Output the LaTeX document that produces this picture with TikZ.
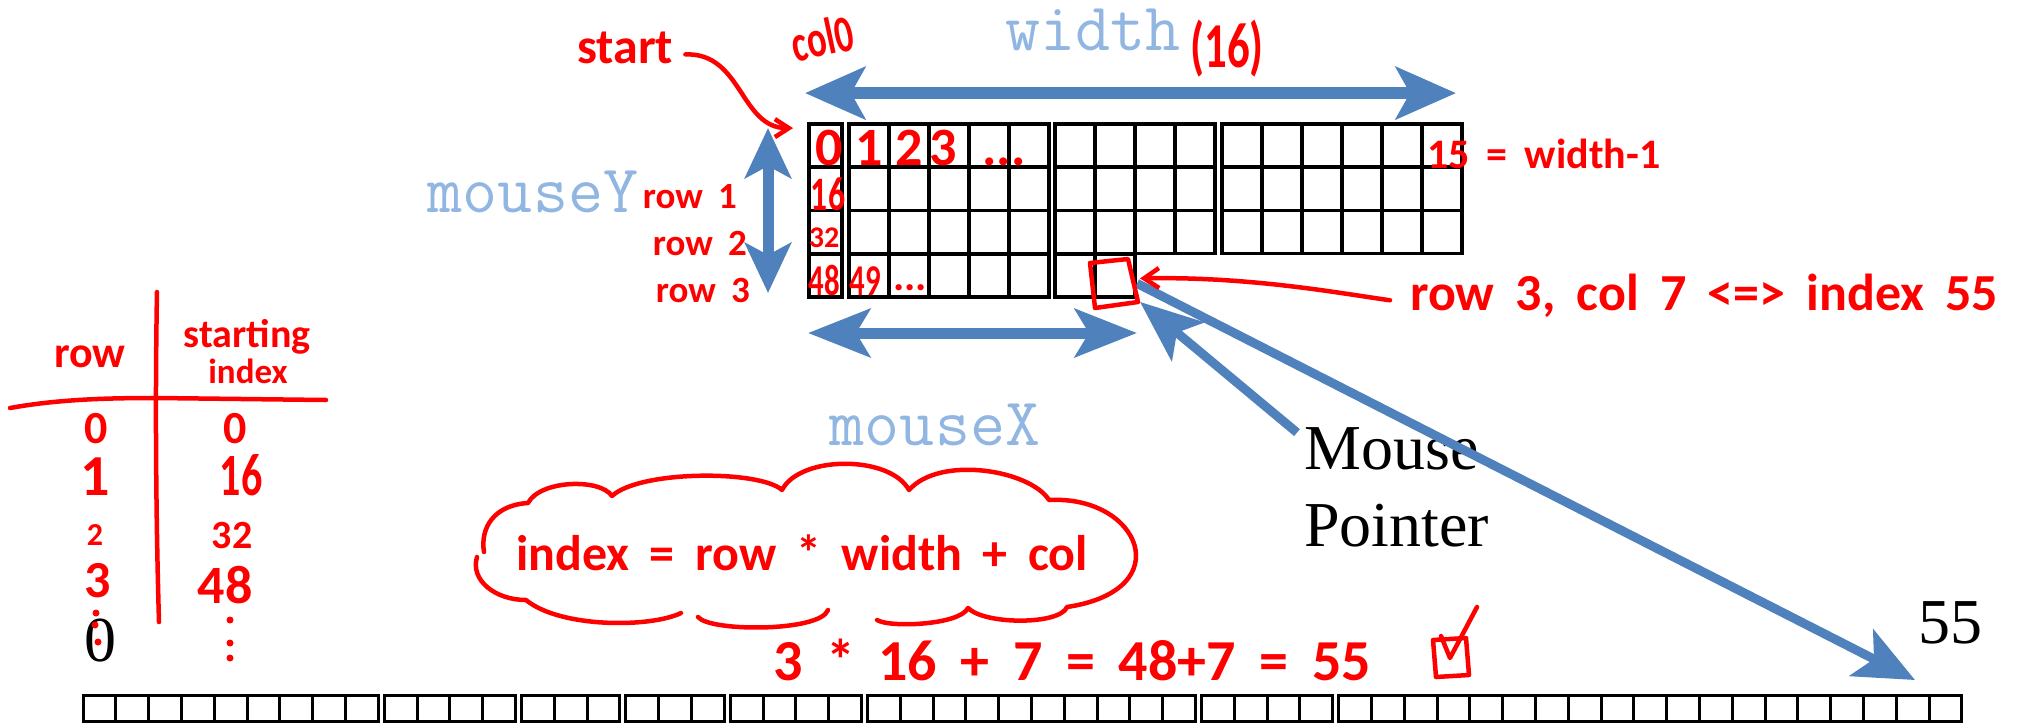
\documentclass[tikz,border=0pt]{standalone}
\usepackage{fontspec}
\setmainfont{Liberation Serif}
\newfontfamily\handfont[WordSpace=1.8]{Carlito}
\newfontfamily\handnarrow[FakeStretch=0.7]{Carlito}
\usetikzlibrary{arrows.meta}
\definecolor{arrowblue}{RGB}{79,129,189}
\definecolor{labelblue}{RGB}{145,182,226}
\newcommand{\fsz}[1]{\fontsize{#1}{#1}\selectfont}

\begin{document}
\begin{tikzpicture}[x=1pt, y=-1pt,
  cell/.style={draw, line width=3.5pt, minimum width=40pt, minimum height=43pt, inner sep=0pt, outer sep=0pt},
  slot/.style={draw, line width=3pt, minimum width=32.8pt, minimum height=26pt, inner sep=0pt, outer sep=0pt},
  hand/.style={text=red, inner sep=0pt, font=\handfont\bfseries\fsz{#1}},
  handn/.style={text=red, inner sep=0pt, font=\handnarrow\bfseries\fsz{#1}},
  ink/.style={draw=red, line width=4.5pt, line cap=round, line join=round},
  fat/.style={draw=arrowblue, line width=#1},
  bluelab/.style={text=labelblue, inner sep=0pt, font=\ttfamily\fsz{68}},
  serif/.style={inner sep=0pt, font=\fontsize{64}{77}\selectfont}]
\useasboundingbox (0,0) rectangle (2028,726);

% 2D grid, 4 rows
\foreach \rr in {0,...,3}{
  \pgfmathsetmacro{\yy}{145.6+43.25*\rr}
  \node[cell, minimum width=33pt] (g\rr-0) at (825.5,\yy) {};
  \foreach \cc in {1,...,5}
    \node[cell] (g\rr-\cc) at ({869+40*(\cc-1)},\yy) {};
}
\foreach \rr in {0,1,2}{
  \pgfmathsetmacro{\yy}{145.6+43.25*\rr}
  \foreach \cc in {6,...,9}
    \node[cell] (g\rr-\cc) at ({1075+40*(\cc-6)},\yy) {};
  \foreach \cc in {10,...,15}
    \node[cell] (g\rr-\cc) at ({1242+40*(\cc-10)},\yy) {};
}
\foreach \cc in {6,7}
  \node[cell] (g3-\cc) at ({1075+40*(\cc-6)},275.4) {};

% 1D array, 56 slots
\foreach \i in {0,...,55}{
  \pgfmathsetmacro{\xx}{99.4+32.8*\i+6*((\i>8)+(\i>12)+(\i>15)+(\i>18)+(\i>22)+(\i>32)+(\i>36))}
  \node[slot] (a\i) at (\xx,708) {};
}

% blue labels
\node[bluelab, anchor=base] (wlab) at (1093,50) {width};
\node[bluelab, anchor=base] (mylab) at (533,212) {mouseY};
\node[bluelab, anchor=base] (mxlab) at (935,445) {mouseX};

% black labels
\node[serif, anchor=north west, align=left] (mouse) at (1304,427.6) {Mouse\\Pointer};
\node[serif, anchor=base] (n55) at (1950,643) {55};
\node[serif, anchor=base] (zero) at (100,661) {0};

% blue arrows
\coordinate (wl) at ([shift={(-4pt,31pt)}]g0-0.north west);
\coordinate (wr) at ([shift={(-6pt,31pt)}]g0-15.north east);
\coordinate (myt) at (768,128);
\coordinate (myb) at (768,293);
\coordinate (mxl) at (808,333);
\coordinate (mxr) at (1137,333);
\draw[fat=12pt, {Stealth[length=60pt,width=52pt,inset=14pt]}-{Stealth[length=60pt,width=52pt,inset=14pt]}] (wl) -- (wr);
\draw[fat=11pt, {Stealth[length=50pt,width=46pt,inset=12pt]}-{Stealth[length=50pt,width=46pt,inset=12pt]}] (myt) -- (myb);
\draw[fat=11pt, {Stealth[length=62pt,width=48pt,inset=14pt]}-{Stealth[length=62pt,width=48pt,inset=14pt]}] (mxl) -- (mxr);
\draw[fat=9pt, -{Stealth[length=62pt,width=50pt,inset=14pt]}] ([shift={(-7pt,-5pt)}]mouse.north west) -- ([shift={(5pt,-5pt)}]g3-7.south east);
\draw[fat=9pt, -{Stealth[length=60pt,width=52pt,inset=14pt]}] ([shift={(2pt,-8pt)}]g3-7.east) -- ([shift={(-14pt,15pt)}]a55.north west);

% handwritten notes
\node[hand=50, anchor=base west] (start) at (577,63) {start};
\node[handn=52, rotate=12] (col0) at (822,38) {col0};
\node[handn=64, anchor=base] (w16) at (1227,67) {(16)};
\node[hand=54, anchor=base] (n0) at (829,165) {0};
\node[hand=54, anchor=base] (n1) at (869,165) {1};
\node[hand=54, anchor=base] (n2) at (909,165) {2};
\node[hand=54, anchor=base] (n3) at (943,165) {3};
\node[hand=54, anchor=base] (ndots) at (1004,165) {...};
\node[hand=42, anchor=base west] (n15) at (1427,168) {15 = width-1};
\node[handn=48, anchor=base] (n16) at (828,210) {16};
\node[hand=30, anchor=base] (n32) at (824,247) {32};
\node[handn=44, anchor=base] (n48) at (824,295) {48};
\node[handn=44, anchor=base] (n49) at (865,295) {49};
\node[hand=42, anchor=base] (n50) at (910,290) {...};
\node[hand=37, anchor=base east] (rl1) at (737,208) {row 1};
\node[hand=37, anchor=base east] (rl2) at (747,255) {row 2};
\node[hand=37, anchor=base east] (rl3) at (750,302) {row 3};
\node[hand=52, anchor=base west] (r3lab) at (1410,310) {row 3, col 7 <=> index 55};

\draw[ink, -{Straight Barb[length=14pt,width=18pt]}] ([shift={(12pt,-7pt)}]start.east) .. controls +(57,-2) and +(-53,0) .. ([shift={(-16pt,-4pt)}]g0-0.north west);
\draw[ink, -{Straight Barb[length=15pt,width=20pt]}] ([shift={(-20pt,-5pt)}]r3lab.west) .. controls +(-50,-7) and +(110,-2) .. ([shift={(5pt,-3pt)}]g3-7.east);
\draw[ink] (1090,263) -- (1128,259) -- (1138,302) -- (1095,308) -- cycle;

% table of starting indices
\draw[ink] (157,292) .. controls (155,400) and (156,520) .. (159,622);
\draw[ink] (10,408) .. controls (60,399) and (110,398) .. (157,398) -- (326,400);
\node[hand=44, anchor=base] (hrow) at (90,367) {row};
\node[hand=40, anchor=base] (hstart) at (247,347) {starting};
\node[hand=35, anchor=base] (hindex) at (248,383) {index};
\node[hand=46, anchor=base] (r0) at (96,443) {0};
\node[hand=46, anchor=base] (s0) at (235,443) {0};
\node[hand=58, anchor=base] (r1) at (95,495) {1};
\node[handn=60, anchor=base] (s1) at (241,495) {16};
\node[hand=32, anchor=base] (r2) at (95,545) {2};
\node[hand=40, anchor=base] (s2) at (232,548) {32};
\node[hand=52, anchor=base] (r3) at (98,597) {3};
\node[hand=54, anchor=base] (s3) at (225,603) {48};
\foreach \p in {(96,613),(95,625),(98,642),(230,620),(230,643),(230,658)}
  \fill[red] \p circle (3.5pt);

% cloud with the formula
\draw[ink] (484,552) .. controls (480,528) and (494,505) .. (528,503)
  .. controls (540,480) and (600,478) .. (612,496)
  .. controls (640,470) and (760,470) .. (782,490)
  .. controls (800,455) and (890,455) .. (909,490)
  .. controls (940,455) and (1030,470) .. (1049,500)
  .. controls (1140,495) and (1180,590) .. (1067,607)
  .. controls (1060,625) and (985,625) .. (968,608)
  .. controls (960,625) and (890,628) .. (877,620);
\draw[ink] (828,610) .. controls (820,632) and (710,632) .. (698,617);
\draw[ink] (681,613) .. controls (650,628) and (560,628) .. (526,600)
  .. controls (495,600) and (470,580) .. (477,557);
\node[hand=50, anchor=base] (formula) at (802,570) {index = row * width + col};
\node[hand=58, anchor=base] (calc) at (1072,680) {3 * 16 + 7 = 48+7 = 55};
\draw[ink] (1433,640) -- (1466,638) -- (1469,675) -- (1436,677) -- cycle;
\draw[ink] (1441,636) -- (1450,658) -- (1477,607);
\end{tikzpicture}
\end{document}
